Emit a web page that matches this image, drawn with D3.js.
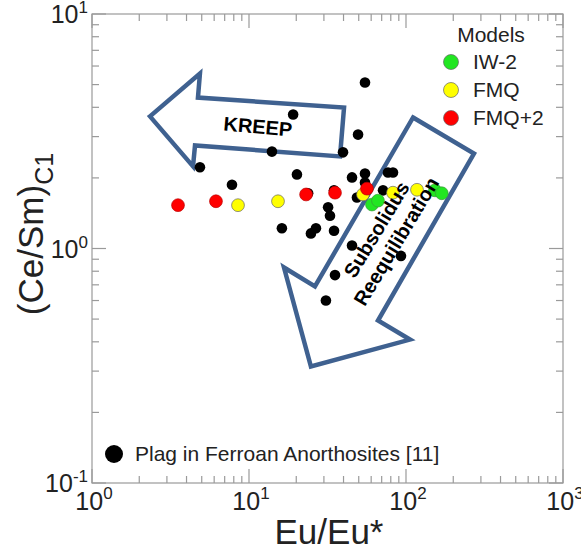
<!DOCTYPE html>
<html>
<head>
<meta charset="utf-8">
<script src="https://cdn.jsdelivr.net/npm/d3@7"></script>
<style>
  body { margin: 0; background: #fff; }
  svg { display: block; font-family: Arial, "Liberation Sans", sans-serif; }
</style>
</head>
<body>
<svg id="chart"></svg>
<script>
// plag in ferroan anorthosites [11]
const plagEu   = [54.8, 19.1, 49.5, 14.0, 39.7, 4.87, 20.2, 45.3, 54.8, 54.8, 76.8, 82.6, 7.79, 23.8,
                  34.8, 48.7, 71.4, 31.9, 32.8, 16.2, 26.7, 24.8, 34.8, 45.3, 92.9, 35.3, 30.9];
const plagCeSm = [5.10, 3.73, 3.06, 2.59, 2.57, 2.22, 2.07, 2.01, 2.09, 1.91, 2.11, 2.11, 1.87, 1.72,
                  1.77, 1.65, 1.77, 1.50, 1.38, 1.22, 1.22, 1.16, 1.19, 1.03, 0.93, 0.77, 0.60];

// models
const fmqEu    = [8.51, 15.3, 53.2, 82.6, 117.5];
const fmqCeSm  = [1.53, 1.59, 1.70, 1.73, 1.78];
const fmq2Eu   = [3.53, 6.16, 23.1, 35.3, 56.4];
const fmq2CeSm = [1.53, 1.59, 1.70, 1.73, 1.80];
const iw2Eu    = [60.7, 66.3, 153, 169];
const iw2CeSm  = [1.54, 1.60, 1.77, 1.72];

const modelNames  = ["IW-2", "FMQ", "FMQ+2"];
const modelColors = ["#22e622", "#ffff00", "#ff0000"];

const xTickValues = [1, 10, 100, 1000];
const xTickExp    = ["0", "1", "2", "3"];
const yTickValues = [0.1, 1, 10];
const yTickExp    = ["-1", "0", "1"];

// arrows, in data units (Eu/Eu*, Ce/Sm)
const kreepArrow = [[2.34, 3.66], [4.87, 5.57], [4.73, 4.40], [40.3, 3.99], [38.0, 2.47], [4.53, 2.75], [4.40, 2.24]];
const subArrow   = [[110.9, 3.62], [271, 2.54], [66.3, 0.493], [106, 0.409], [24.8, 0.314], [16.7, 0.830], [26.3, 0.689]];
const kreepLabelAt = [11.4, 3.31];
const subLabelAt   = [74.6, 1.14];

const width = 581, height = 550;
const svg = d3.select("#chart").attr("width", width).attr("height", height);

let x = d3.scaleLog().domain([1, 1000]).range([92, 563]);
let y = d3.scaleLog().domain([0.1, 10]).range([483, 14]);

const axisColor = "#9a9a9a";
const [x0, x1] = x.range(), [y0, y1] = y.range();

// frame
svg.append("rect")
  .attr("x", x0).attr("y", y1)
  .attr("width", x1 - x0).attr("height", y0 - y1)
  .attr("fill", "none").attr("stroke", axisColor).attr("stroke-width", 1.2);

function isMajor(v) { return Math.abs(Math.log10(v) - Math.round(Math.log10(v))) < 1e-6; }

// ticks, pointing inward on all four sides
let ticks = svg.append("g").attr("stroke", axisColor).attr("stroke-width", 1.2);
x.ticks().forEach(t => {
  let len = isMajor(t) ? 14 : 7;
  ticks.append("line").attr("x1", x(t)).attr("x2", x(t)).attr("y1", y0).attr("y2", y0 - len);
  ticks.append("line").attr("x1", x(t)).attr("x2", x(t)).attr("y1", y1).attr("y2", y1 + len);
});
y.ticks().forEach(t => {
  let len = isMajor(t) ? 14 : 7;
  ticks.append("line").attr("y1", y(t)).attr("y2", y(t)).attr("x1", x0).attr("x2", x0 + len);
  ticks.append("line").attr("y1", y(t)).attr("y2", y(t)).attr("x1", x1).attr("x2", x1 - len);
});

// tick labels 10^n
xTickValues.forEach((t, i) => {
  let txt = svg.append("text")
    .attr("x", x(t) + 2).attr("y", y0 + 27)
    .attr("text-anchor", "middle").attr("font-size", 25).attr("fill", "#222");
  txt.append("tspan").text("10");
  txt.append("tspan").attr("font-size", 17).attr("dy", -11).text(xTickExp[i]);
});
yTickValues.forEach((t, i) => {
  let txt = svg.append("text")
    .attr("x", 88).attr("y", y(t) + 9)
    .attr("text-anchor", "end").attr("font-size", 25).attr("fill", "#222");
  txt.append("tspan").text("10");
  txt.append("tspan").attr("font-size", 17).attr("dy", -10).text(yTickExp[i]);
});

// axis titles
svg.append("text")
  .attr("x", 329).attr("y", 544)
  .attr("text-anchor", "middle").attr("font-size", 35).attr("fill", "#222")
  .text("Eu/Eu*");

let yTitle = svg.append("text")
  .attr("transform", "translate(43,234) rotate(-90)")
  .attr("text-anchor", "middle").attr("font-size", 35).attr("fill", "#222");
yTitle.append("tspan").text("(Ce/Sm)");
yTitle.append("tspan").attr("font-size", 25).attr("dy", 10).text("C1");

// arrows
let line = d3.line().x(d => x(d[0])).y(d => y(d[1])).curve(d3.curveLinearClosed);
let arrowColor = "#3f6190";
[kreepArrow, subArrow].forEach(a => {
  svg.append("path")
    .attr("d", line(a))
    .attr("fill", "none")
    .attr("stroke", arrowColor)
    .attr("stroke-width", 4.5)
    .attr("stroke-linejoin", "miter");
});

// points
let pts = svg.append("g");
function drawSeries(xs, ys, fill, r, stroke) {
  pts.selectAll(null).data(xs.map((d, i) => [d, ys[i]]))
    .enter().append("circle")
    .attr("cx", d => x(d[0])).attr("cy", d => y(d[1]))
    .attr("r", r)
    .attr("fill", fill)
    .attr("stroke", stroke)
    .attr("stroke-width", 0.7);
}
drawSeries(plagEu, plagCeSm, "#000", 5.3, "none");
drawSeries(fmqEu, fmqCeSm, modelColors[1], 6.4, "#666");
drawSeries(fmq2Eu, fmq2CeSm, modelColors[2], 6.4, "#b00");
drawSeries(iw2Eu, iw2CeSm, modelColors[0], 6.4, "#3a9a3a");

// arrow labels
svg.append("text")
  .attr("transform", `translate(${x(kreepLabelAt[0])},${y(kreepLabelAt[1])}) rotate(5)`)
  .attr("text-anchor", "middle").attr("dominant-baseline", "central")
  .attr("font-size", 20).attr("font-weight", "bold").attr("fill", "#000")
  .text("KREEP");

let sub = svg.append("g")
  .attr("transform", `translate(${x(subLabelAt[0])},${y(subLabelAt[1])}) rotate(-59)`);
sub.append("text").attr("y", -11)
  .attr("text-anchor", "middle").attr("dominant-baseline", "central")
  .attr("font-size", 20).attr("font-weight", "bold").text("Subsolidus");
sub.append("text").attr("y", 12)
  .attr("text-anchor", "middle").attr("dominant-baseline", "central")
  .attr("font-size", 20).attr("font-weight", "bold").text("Reequilibration");

// models legend
let lg = svg.append("g");
lg.append("text").attr("x", 491).attr("y", 42)
  .attr("text-anchor", "middle").attr("font-size", 21).attr("fill", "#222").text("Models");
modelNames.forEach((m, i) => {
  let cy = 62 + i * 28;
  lg.append("circle").attr("cx", 451).attr("cy", cy).attr("r", 7.5)
    .attr("fill", modelColors[i]).attr("stroke", "#666").attr("stroke-width", 0.7);
  lg.append("text").attr("x", 473).attr("y", cy + 7)
    .attr("font-size", 21).attr("fill", "#222").text(m);
});

// plag legend
svg.append("circle").attr("cx", 114).attr("cy", 454).attr("r", 9).attr("fill", "#000");
svg.append("text").attr("x", 135).attr("y", 461)
  .attr("font-size", 21).attr("fill", "#222").text("Plag in Ferroan Anorthosites [11]");
</script>
</body>
</html>
